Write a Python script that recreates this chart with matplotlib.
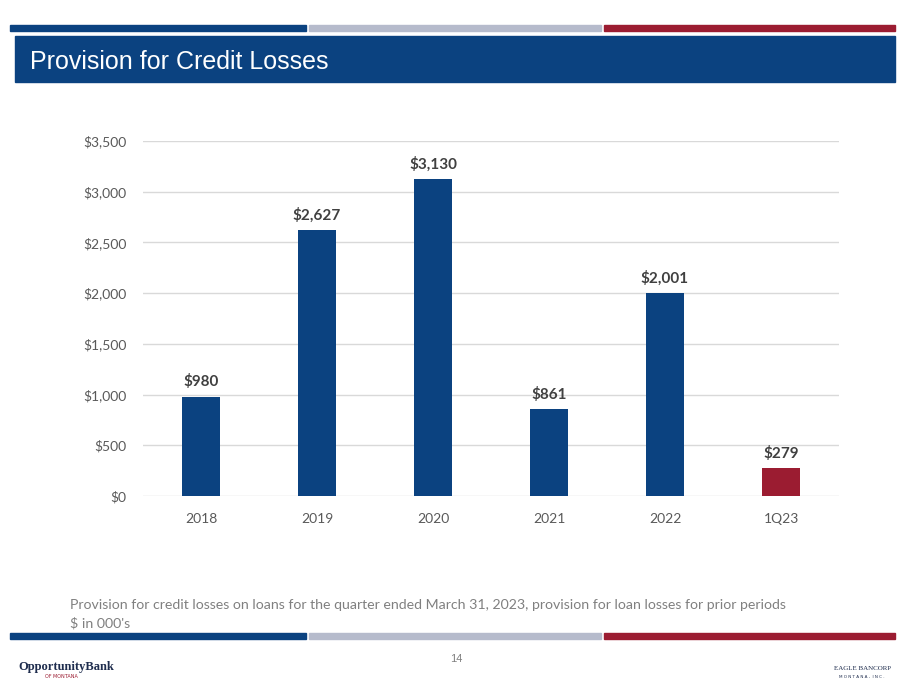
import matplotlib.pyplot as plt
from matplotlib.patches import Rectangle

categorias = ['2018', '2019', '2020', '2021', '2022', '1Q23']
valores = [980, 2627, 3130, 861, 2001, 279]
rotulos = ['$980', '$2,627', '$3,130', '$861', '$2,001', '$279']
ticks_y = [0, 500, 1000, 1500, 2000, 2500, 3000, 3500]

azul = '#0B4280'
vermelho = '#9B1C31'
cinza = '#B6BBCC'
cores = [azul] * 5 + [vermelho]

W, H = 911, 683
fig = plt.figure(figsize=(W / 100, H / 100), dpi=100)
fig.patch.set_facecolor('white')

# faixas decorativas (coordenadas de pixel convertidas)
def faixa(x0, y0, x1, y1, cor):
    fig.patches.append(Rectangle((x0 / W, 1 - y1 / H), (x1 - x0) / W, (y1 - y0) / H,
                                 transform=fig.transFigure, color=cor, zorder=0))

faixa(10, 25, 306, 31, azul)
faixa(309, 25, 601, 31, cinza)
faixa(604, 25, 895, 31, vermelho)
faixa(15, 36, 895, 82, azul)
faixa(10, 633, 306, 639, azul)
faixa(309, 633, 601, 639, cinza)
faixa(604, 633, 895, 639, vermelho)

fig.text(30 / W, 1 - 62 / H, 'Provision for Credit Losses', color='white',
         fontsize=18, family='Liberation Sans', va='center', ha='left')

ax = fig.add_axes([143 / W, 1 - 496 / H, (839 - 143) / W, (496 - 141) / H])
x = range(len(categorias))
ax.bar(x, valores, width=0.32, color=cores, zorder=3)
for xi, v, r in zip(x, valores, rotulos):
    ax.text(xi, v + 70, r, ha='center', va='bottom', fontsize=11, fontweight='bold',
            color='#404040', family='Lato')

ax.set_ylim(0, 3500)
ax.set_xlim(-0.5, 5.5)
ax.set_yticks(ticks_y)
ax.set_yticklabels(['${:,}'.format(t) for t in ticks_y])
ax.set_xticks(list(x))
ax.set_xticklabels(categorias)
ax.grid(axis='y', color='#D9D9D9', linewidth=1, zorder=0)
for s in ax.spines.values():
    s.set_visible(False)
ax.tick_params(axis='both', length=0, labelsize=10, labelcolor='#595959')
ax.tick_params(axis='x', pad=12)
ax.tick_params(axis='y', pad=12)
for t in ax.get_xticklabels() + ax.get_yticklabels():
    t.set_family('Lato')

fig.text(70 / W, 1 - 605 / H,
         'Provision for credit losses on loans for the quarter ended March 31, 2023, '
         'provision for loan losses for prior periods',
         fontsize=10.2, color='#808080', family='Lato', va='center')
fig.text(70 / W, 1 - 623 / H, "$ in 000's", fontsize=10.2, color='#808080',
         family='Lato', va='center')
fig.text(456 / W, 1 - 659 / H, '14', fontsize=8, color='#808080', ha='center',
         va='center', family='Liberation Sans')

# logotipos aproximados como texto
fig.text(18 / W, 1 - 667 / H, 'OpportunityBank', fontsize=9, color='#1F2D4E',
         family='Liberation Serif', va='center', fontweight='bold')
fig.text(45 / W, 1 - 677 / H, 'OF MONTANA', fontsize=3.5, color=vermelho,
         family='DejaVu Sans', va='center')
fig.text(862 / W, 1 - 669 / H, 'EAGLE BANCORP', fontsize=5, color='#1F2D4E',
         family='Liberation Serif', va='center', ha='center')
fig.text(862 / W, 1 - 677 / H, 'M O N T A N A ,  I N C .', fontsize=3, color='#1F2D4E',
         family='DejaVu Sans', va='center', ha='center')

fig.savefig('out.png', dpi=100)
